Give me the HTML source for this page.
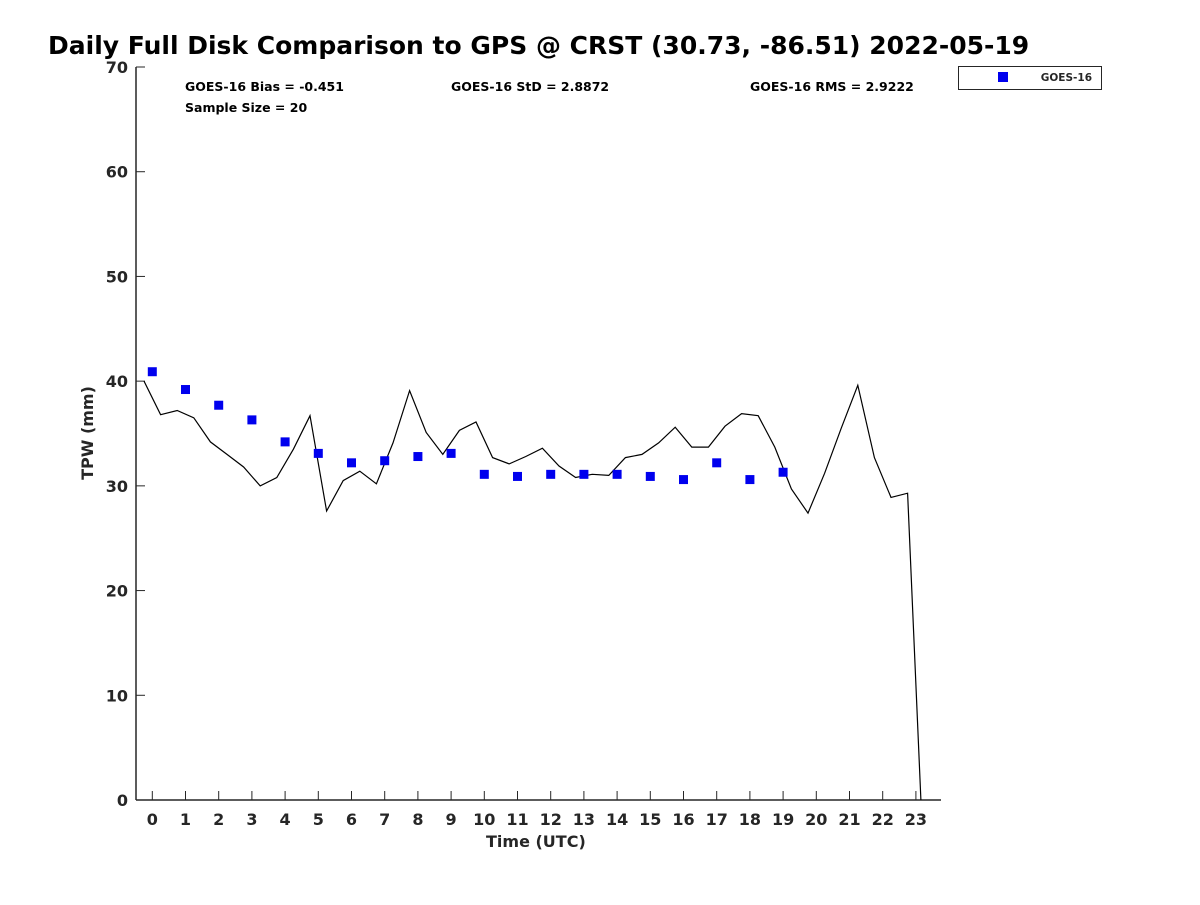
<!DOCTYPE html>
<html><head><meta charset="utf-8"><style>
body{margin:0;background:#fff;}
svg text{font-family:"DejaVu Sans","Liberation Sans",sans-serif;font-weight:bold;fill:#262626;}
</style></head><body>
<svg width="1200" height="900" xmlns="http://www.w3.org/2000/svg">
<text x="48" y="54" font-size="25" fill="#000" style="fill:#000">Daily Full Disk Comparison to GPS @ CRST (30.73, -86.51) 2022-05-19</text>
<g id="axes"></g>
<g id="marks"></g>
<text x="185" y="91" font-size="12.5" style="fill:#000">GOES-16 Bias = -0.451</text>
<text x="185" y="112" font-size="12.5" style="fill:#000">Sample Size = 20</text>
<text x="451" y="91" font-size="12.5" style="fill:#000">GOES-16 StD = 2.8872</text>
<text x="750" y="91" font-size="12.5" style="fill:#000">GOES-16 RMS = 2.9222</text>
<g>
<rect x="958.5" y="66.5" width="143" height="23" fill="#fff" stroke="#262626" stroke-width="1"/>
<rect x="998" y="72" width="10" height="10" fill="#0000ee"/>
<text x="1092" y="81" font-size="10.5" text-anchor="end">GOES-16</text>
</g>
<text x="486" y="847" font-size="16">Time (UTC)</text>
<text transform="translate(93,433) rotate(-90)" font-size="16" text-anchor="middle">TPW (mm)</text>
</svg>
<script>
const gpsTimes=[-0.25,0.25,0.75,1.25,1.75,2.25,2.75,3.25,3.75,4.25,4.75,5.25,5.75,6.25,6.75,7.25,7.75,8.25,8.75,9.25,9.75,10.25,10.75,11.25,11.75,12.25,12.75,13.25,13.75,14.25,14.75,15.25,15.75,16.25,16.75,17.25,17.75,18.25,18.75,19.25,19.75,20.25,20.75,21.25,21.75,22.25,22.75,23.15];
const gpsValues=[40.0,36.8,37.2,36.5,34.2,33.0,31.8,30.0,30.8,33.5,36.7,27.6,30.5,31.4,30.2,34.1,39.1,35.1,33.0,35.3,36.1,32.7,32.1,32.8,33.6,31.9,30.8,31.1,31.0,32.7,33.0,34.1,35.6,33.7,33.7,35.7,36.9,36.7,33.7,29.7,27.4,31.2,35.5,39.6,32.7,28.9,29.3,0];
const goesHours=[0,1,2,3,4,5,6,7,8,9,10,11,12,13,14,15,16,17,18,19];
const goesValues=[40.9,39.2,37.7,36.3,34.2,33.1,32.2,32.4,32.8,33.1,31.1,30.9,31.1,31.1,31.1,30.9,30.6,32.2,30.6,31.3];
const xTicks=[0,1,2,3,4,5,6,7,8,9,10,11,12,13,14,15,16,17,18,19,20,21,22,23];
const yTicks=[0,10,20,30,40,50,60,70];
const NS="http://www.w3.org/2000/svg";
const X0=136,X1=941,Y0=800,Y1=67;
const xs=h=>152.3+h*33.2;
const ys=v=>Y0-(v/70)*(Y0-Y1);
function mk(t,a,p){const e=document.createElementNS(NS,t);for(const k in a)e.setAttribute(k,a[k]);p.appendChild(e);return e;}
const ax=document.getElementById('axes'),mg=document.getElementById('marks');
const xl=mk('line',{x1:X0,y1:Y0,x2:X1,y2:Y0,stroke:'#262626','stroke-width':1.5},ax);


const yl=mk('line',{x1:X0,y1:Y0,x2:X0,y2:Y1,stroke:'#262626','stroke-width':1.5},ax);


xTicks.forEach(h=>{
 const t=mk('line',{x1:xs(h),y1:Y0,x2:xs(h),y2:Y0-9,stroke:'#262626','stroke-width':1},ax);
 
 
 const l=mk('text',{x:xs(h),y:Y0+25,'font-size':16,'text-anchor':'middle'},ax);l.textContent=h;
 
 
});
yTicks.forEach(v=>{
 const t=mk('line',{x1:X0,y1:ys(v),x2:X0+9,y2:ys(v),stroke:'#262626','stroke-width':1},ax);
 
 
 const l=mk('text',{x:128,y:ys(v)+6,'font-size':16,'text-anchor':'end'},ax);l.textContent=v;
 
 
});
const pts=gpsTimes.map((t,i)=>xs(t).toFixed(1)+','+ys(gpsValues[i]).toFixed(1)).join(' ');
const pl=mk('polyline',{points:pts,fill:'none',stroke:'#000','stroke-width':1.2},mg);


goesHours.forEach((h,i)=>{
 const r=mk('rect',{x:xs(h)-4.5,y:ys(goesValues[i])-4.5,width:9,height:9,fill:'#0000ee'},mg);
 
 
});
</script>
</body></html>
